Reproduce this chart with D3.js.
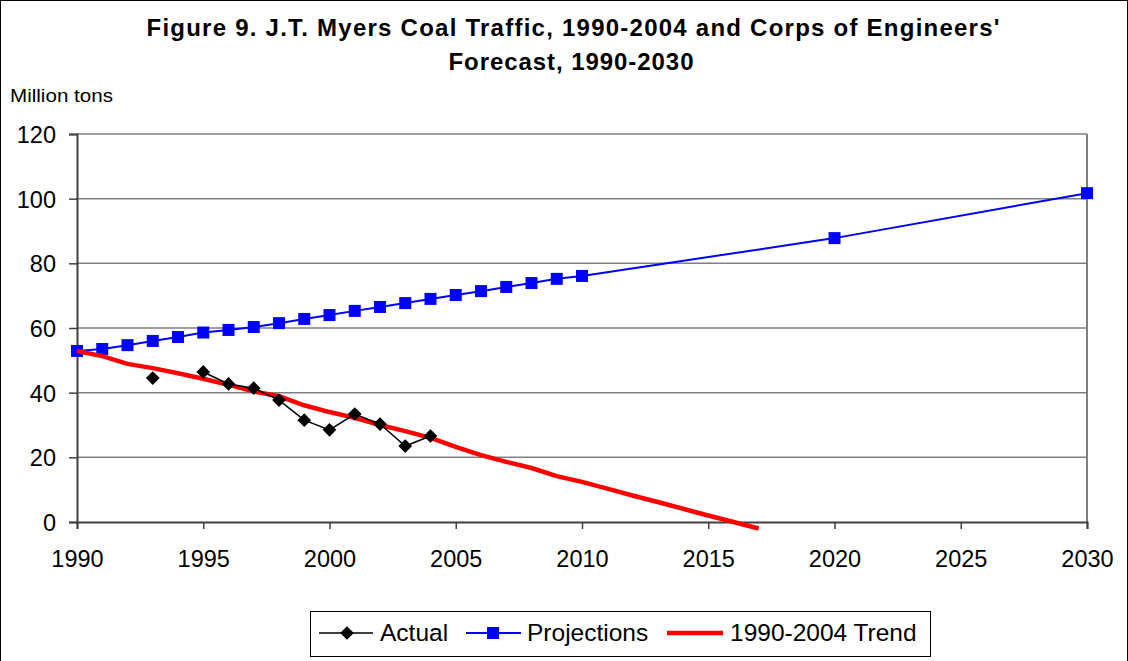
<!DOCTYPE html>
<html>
<head>
<meta charset="utf-8">
<script src="https://cdn.jsdelivr.net/npm/d3@7"></script>
<style>
  body { margin: 0; background: #fff; }
  svg { font-family: "Liberation Sans", Arial, sans-serif; }
</style>
</head>
<body>
<div id="chart"></div>
<script>
// Data
var projYears = [1990, 1991, 1992, 1993, 1994, 1995, 1996, 1997, 1998, 1999, 2000,
                 2001, 2002, 2003, 2004, 2005, 2006, 2007, 2008, 2009, 2010, 2020, 2030];
var projValues = [52.9, 53.5, 54.7, 56.0, 57.2, 58.6, 59.4, 60.3, 61.5, 62.8, 64.0,
                  65.3, 66.5, 67.7, 69.0, 70.2, 71.4, 72.7, 73.9, 75.2, 76.1, 87.8, 101.7];

var actualYears = [1990, 1991, 1992, 1993, 1994, 1995, 1996, 1997, 1998, 1999, 2000, 2001, 2002, 2003, 2004];
var actualValues = [null, null, null, 44.5, null, 46.4, 42.7, 41.4, 37.7, 31.5, 28.5, 33.4, 30.3, 23.5, 26.6];

var trendYears = [1990, 1991, 1992, 1993, 1994, 1995, 1996, 1997, 1998, 1999, 2000, 2001, 2002, 2003,
                  2004, 2005, 2006, 2007, 2008, 2009, 2010, 2011, 2012, 2013, 2014, 2015, 2016, 2017];
var trendValues = [52.9, 51.3, 48.9, 47.6, 46.0, 44.3, 42.4, 40.4, 38.9, 36.1, 34.0, 32.2, 30.0, 28.1,
                   26.0, 23.2, 20.7, 18.6, 16.7, 14.2, 12.4, 10.3, 8.2, 6.2, 4.1, 2.0, 0.0, -2.0];

var xTicks = [1990, 1995, 2000, 2005, 2010, 2015, 2020, 2025, 2030];
var yTicks = [0, 20, 40, 60, 80, 100, 120];

var svgWidth = 1128;
var svgHeight = 661;
var margin = { top: 134, right: 41, bottom: 139, left: 77 };
var width = svgWidth - margin.left - margin.right;
var height = svgHeight - margin.top - margin.bottom;

var svg = d3.select("#chart")
    .append("svg")
    .attr("width", svgWidth)
    .attr("height", svgHeight);

// outer border
svg.append("rect")
    .attr("x", 0.5).attr("y", 0.5)
    .attr("width", svgWidth - 1).attr("height", svgHeight)
    .attr("fill", "none")
    .attr("stroke", "#000");

// title
svg.append("text")
    .attr("x", 573).attr("y", 36)
    .attr("text-anchor", "middle")
    .attr("font-size", "24px").attr("font-weight", "bold")
    .attr("textLength", 853).attr("lengthAdjust", "spacing")
    .text("Figure 9. J.T. Myers Coal Traffic, 1990-2004 and Corps of Engineers'");
svg.append("text")
    .attr("x", 571).attr("y", 70)
    .attr("text-anchor", "middle")
    .attr("font-size", "24px").attr("font-weight", "bold")
    .attr("textLength", 245).attr("lengthAdjust", "spacing")
    .text("Forecast, 1990-2030");

svg.append("text")
    .attr("x", 10).attr("y", 102)
    .attr("font-size", "18px")
    .attr("textLength", 103).attr("lengthAdjust", "spacingAndGlyphs")
    .text("Million tons");

var chartGroup = svg.append("g")
    .attr("transform", `translate(${margin.left}, ${margin.top})`);

var x = d3.scaleLinear().domain([1990, 2030]).range([0, width]);
var y = d3.scaleLinear().domain([0, 120]).range([height, 0]);

// gridlines
chartGroup.selectAll(".grid")
    .data(yTicks.filter(d => d > 0))
    .enter().append("line")
    .attr("x1", 0).attr("x2", width)
    .attr("y1", d => y(d)).attr("y2", d => y(d))
    .attr("stroke", "#808080").attr("stroke-width", 1.5);

// right border
chartGroup.append("line")
    .attr("x1", width).attr("x2", width)
    .attr("y1", 0).attr("y2", height)
    .attr("stroke", "#808080").attr("stroke-width", 2);

// axes
var bottomAxis = d3.axisBottom(x).tickValues(xTicks).tickFormat(d3.format("d")).tickSizeOuter(0).tickSize(7);
var leftAxis = d3.axisLeft(y).tickValues(yTicks).tickSizeOuter(0).tickSize(8);

var xg = chartGroup.append("g")
    .attr("transform", `translate(0, ${height})`)
    .call(bottomAxis);
var yg = chartGroup.append("g").call(leftAxis);

[xg, yg].forEach(function(g) {
    g.select(".domain").attr("stroke", "#404040").attr("stroke-width", 2);
    g.selectAll(".tick line").attr("stroke", "#404040").attr("stroke-width", 1.5);
    g.selectAll(".tick text").attr("font-size", "23.5px").attr("fill", "#000")
        .attr("font-family", "Liberation Sans, Arial, sans-serif");
});
xg.selectAll(".tick text").attr("y", 45).attr("dy", 0);
yg.selectAll(".tick text").attr("x", -21).attr("dy", "0.36em");

// lines
var line = d3.line()
    .defined(d => d[1] !== null)
    .x(d => x(d[0]))
    .y(d => y(d[1]));

var trend = trendYears.map((d, i) => [d, trendValues[i]]);
var proj = projYears.map((d, i) => [d, projValues[i]]);
var actual = actualYears.map((d, i) => [d, actualValues[i]]);

chartGroup.append("path")
    .datum(proj)
    .attr("d", line)
    .attr("fill", "none").attr("stroke", "#0000ff").attr("stroke-width", 2);

chartGroup.selectAll(".proj")
    .data(proj)
    .enter().append("rect")
    .attr("x", d => x(d[0]) - 6)
    .attr("y", d => y(d[1]) - 6)
    .attr("width", 12).attr("height", 12)
    .attr("fill", "#0000ff");

chartGroup.append("path")
    .datum(trend)
    .attr("d", line)
    .attr("fill", "none").attr("stroke", "#ff0000").attr("stroke-width", 4.5);

chartGroup.append("path")
    .datum(actual)
    .attr("d", line)
    .attr("fill", "none").attr("stroke", "#000").attr("stroke-width", 1.5);

var diamond = d3.symbol().type(d3.symbolDiamond2).size(120);
chartGroup.selectAll(".actual")
    .data(actual.filter(d => d[1] !== null))
    .enter().append("path")
    .attr("d", diamond)
    .attr("transform", d => `translate(${x(d[0])}, ${y(d[1])})`)
    .attr("fill", "#000");

// legend
var legend = svg.append("g");
legend.append("rect")
    .attr("x", 310.5).attr("y", 611.5)
    .attr("width", 620).attr("height", 45)
    .attr("fill", "#fff").attr("stroke", "#000");

var ly = 633;
legend.append("line").attr("x1", 319).attr("x2", 373).attr("y1", ly).attr("y2", ly)
    .attr("stroke", "#000").attr("stroke-width", 1.5);
legend.append("path").attr("d", diamond).attr("transform", `translate(347, ${ly})`).attr("fill", "#000");
legend.append("text").attr("x", 380).attr("y", ly + 8).attr("font-size", "24.5px").text("Actual");

legend.append("line").attr("x1", 466).attr("x2", 521).attr("y1", ly).attr("y2", ly)
    .attr("stroke", "#0000ff").attr("stroke-width", 2);
legend.append("rect").attr("x", 487).attr("y", ly - 6).attr("width", 12).attr("height", 12).attr("fill", "#0000ff");
legend.append("text").attr("x", 527).attr("y", ly + 8).attr("font-size", "24.5px").text("Projections");

legend.append("line").attr("x1", 667).attr("x2", 723).attr("y1", ly).attr("y2", ly)
    .attr("stroke", "#ff0000").attr("stroke-width", 4.5);
legend.append("text").attr("x", 730).attr("y", ly + 8).attr("font-size", "24.5px")
    .text("1990-2004 Trend");
</script>
</body>
</html>
